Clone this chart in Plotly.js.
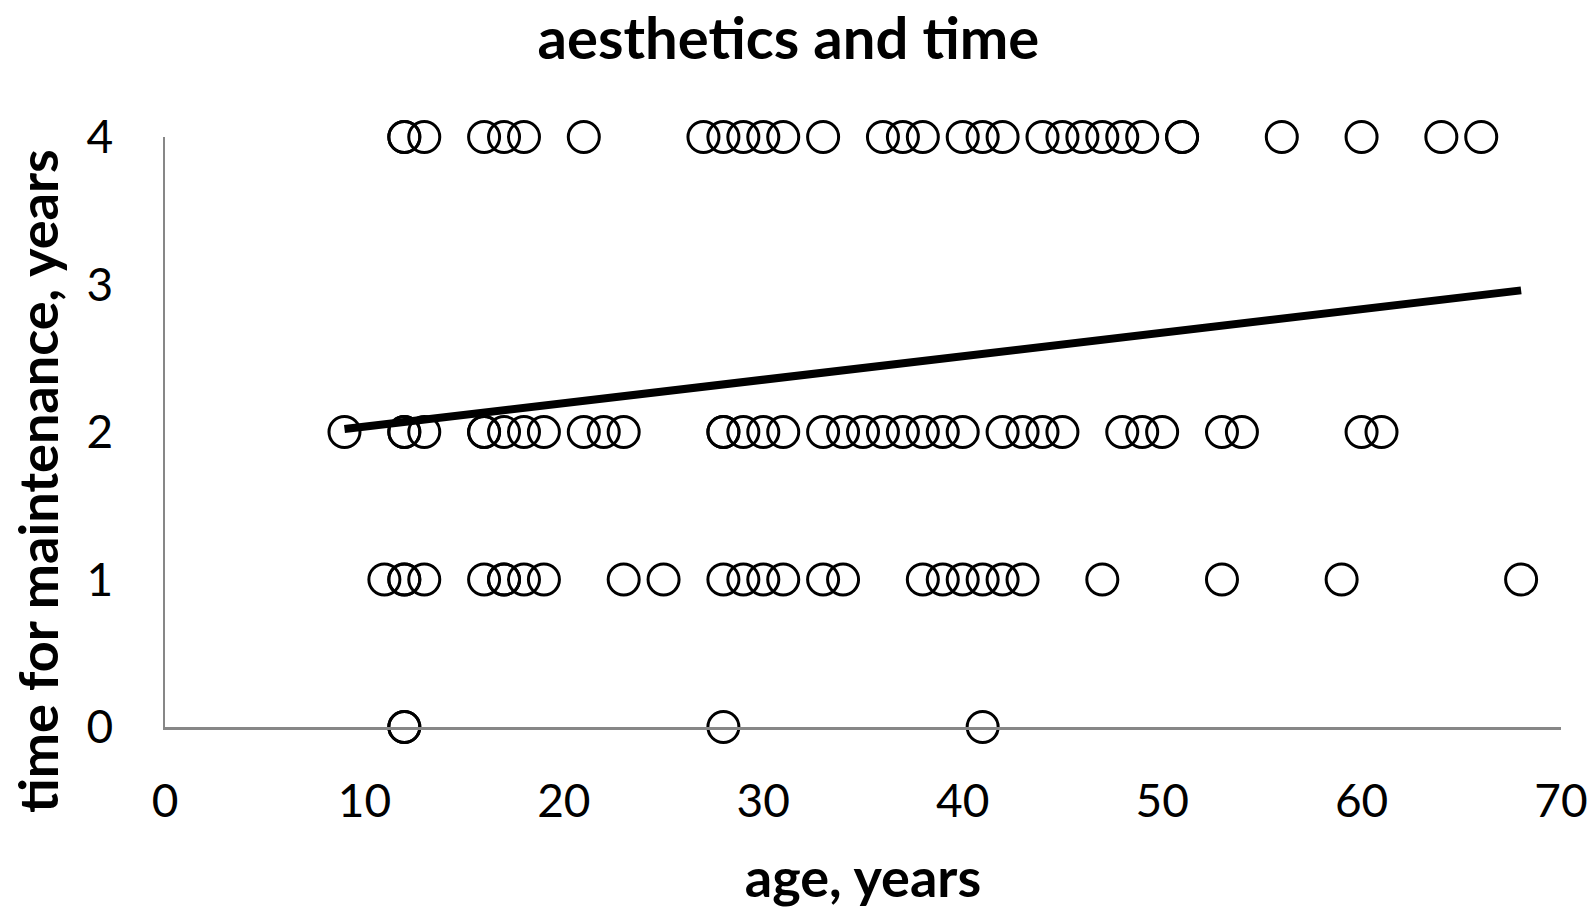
<!DOCTYPE html>
<html>
<head>
<meta charset="utf-8">
<script src="https://cdn.plot.ly/plotly-3.0.1.min.js"></script>
<style>html,body{margin:0;padding:0;background:#fff;}#chart{width:1596px;height:909px;}</style>
</head>
<body>
<div id="chart"></div>
<script>
// age (years) of respondents, grouped by time for maintenance (years)
const age4 = [12,12,13,16,17,18,21,27,28,29,30,31,33,36,37,38,40,41,42,44,45,46,47,48,49,51,51,56,60,64,66];
const age2 = [9,12,12,13,16,16,17,18,19,21,22,23,28,28,29,30,31,33,34,35,36,37,38,39,40,42,43,44,45,48,49,50,53,54,60,61];
const age1 = [11,12,12,13,16,17,17,18,19,23,25,28,29,30,31,33,34,38,39,40,41,42,43,47,53,59,68];
const age0 = [12,12,28,41];
const groups = [[age0,0],[age1,1],[age2,2],[age4,4]];
// linear trend line end points
const trendX = [9, 68];
const trendY = [2.02, 2.96];
const xTicks = [0,10,20,30,40,50,60,70];
const yTicks = [0,1,2,3,4];

const xs = [], ys = [];
groups.forEach(([arr, t]) => arr.forEach(a => { xs.push(a); ys.push(t); }));

const font = 'Lato, "Open Sans", sans-serif';
const data = [
  {x: xs, y: ys, type: 'scatter', mode: 'markers', cliponaxis: false,
   marker: {symbol: 'circle-open', size: 31, color: '#000', line: {width: 3, color: '#000'}},
   showlegend: false, hoverinfo: 'x+y'},
  {x: trendX, y: trendY, type: 'scatter', mode: 'lines', cliponaxis: false,
   line: {color: '#000', width: 8}, showlegend: false}
];
const layout = {
  width: 1596, height: 909,
  paper_bgcolor: '#fff', plot_bgcolor: '#fff',
  margin: {l: 165, r: 35, t: 137, b: 182},
  font: {family: font, color: '#000'},
  title: {text: '<b>aesthetics and time</b>', font: {family: font, size: 58, color: '#000'},
          x: 0.494, xanchor: 'center', y: 0.957, yanchor: 'middle', yref: 'container'},
  xaxis: {range: [0, 70], tickvals: xTicks, ticktext: xTicks.map(String),
          showgrid: false, zeroline: false, showline: true, linecolor: '#878787', linewidth: 2.5,
          ticks: '', ticklabelstandoff: 32, tickfont: {size: 46, family: font, color: '#000'},
          title: {text: '<b>age, years</b>', font: {size: 54, family: font, color: '#000'}, standoff: 38}},
  yaxis: {range: [0, 4], tickvals: yTicks, ticktext: yTicks.map(String),
          showgrid: false, zeroline: false, showline: true, linecolor: '#878787', linewidth: 2.5,
          ticks: '', ticklabelstandoff: 40, tickfont: {size: 46, family: font, color: '#000'},
          title: {text: ''}},
  annotations: [{
    text: '<b>time for maintenance, years</b>', textangle: -90, showarrow: false,
    xref: 'paper', yref: 'paper', x: -0.091, y: 0.417, xanchor: 'center', yanchor: 'middle',
    font: {size: 54, family: font, color: '#000'}
  }]
};
Plotly.newPlot('chart', data, layout, {displayModeBar: false, staticPlot: true});
</script>
</body>
</html>
